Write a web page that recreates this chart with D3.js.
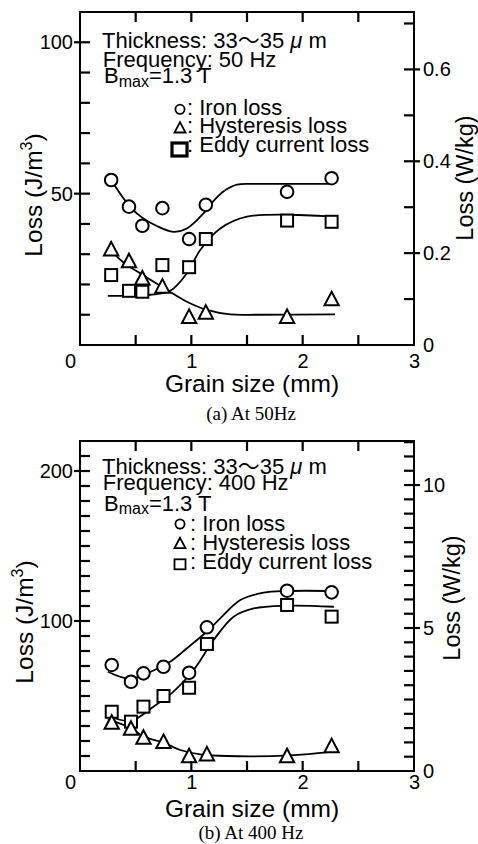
<!DOCTYPE html>
<html><head><meta charset="utf-8">
<script src="https://cdn.jsdelivr.net/npm/d3@7"></script>
<style>
body{margin:0;background:#fff}
svg{display:block}
text{font-family:"Liberation Sans",Arial,Helvetica,sans-serif;fill:#000}
.cap{font-family:"Liberation Serif","Times New Roman",serif}
</style>
</head><body>
<svg id="chart" width="478" height="844"></svg>
<script>
// ---------- shared ----------
const xLabels = [0, 1, 2, 3];
const xMinorTicks = [0.5, 1, 1.5, 2, 2.5];
const seriesNames = ["Iron loss", "Hysteresis loss", "Eddy current loss"];

// ---------- panel (a) 50 Hz ----------
const grainA = [0.28, 0.44, 0.56, 0.74, 0.98, 1.13, 1.86, 2.26];
const ironA  = [54.5, 45.7, 39.4, 45.2, 35.0, 46.3, 50.6, 55.1];
const hystA  = [31.4, 27.5, 21.8, 19.1, 9.1, 10.5, 9.1, 14.9];
const eddyA  = [23.1, 17.9, 17.6, 26.4, 25.7, 35.0, 41.1, 40.7];
const ironFitAx = [0.28, 0.40, 0.51, 0.69, 0.84, 0.96, 1.11, 1.18, 1.30, 1.41, 1.60, 2.26];
const ironFitAy = [54.5, 48.0, 43.5, 39.3, 37.4, 38.5, 43.5, 46.8, 51.0, 53.0, 53.2, 53.2];
const hystFitAx = [0.27, 0.40, 0.54, 0.78, 0.96, 1.14, 1.35, 1.60, 2.29];
const hystFitAy = [31.4, 27.0, 23.7, 18.2, 14.3, 11.6, 10.1, 10.0, 10.1];
const eddyFitAx = [0.25, 0.45, 0.63, 0.81, 0.96, 1.08, 1.26, 1.50, 2.29];
const eddyFitAy = [16.2, 16.3, 16.6, 17.9, 23.7, 31.4, 38.5, 42.4, 42.4];
const leftMajorA = [50, 100];
const leftMinorA = [10, 20, 30, 40, 50, 60, 70, 80, 90, 100];
const rightMajorA = [0, 0.2, 0.4, 0.6];
const rightMinorA = [0.1, 0.2, 0.3, 0.4, 0.5, 0.6, 0.7];
const headerA = ["Thickness: 33", "Frequency: 50 Hz", "=1.3 T"];
const captionA = "(a) At 50Hz";

// ---------- panel (b) 400 Hz ----------
const grainB = [0.285, 0.458, 0.57, 0.75, 0.98, 1.14, 1.86, 2.26];
const ironB  = [70.7, 59.5, 65.1, 69.5, 65.5, 95.8, 120.2, 119.1];
const hystB  = [31.8, 27.8, 21.8, 18.9, 9.5, 10.7, 9.5, 16.2];
const eddyB  = [39.5, 32.9, 42.9, 50.0, 55.5, 84.7, 110.7, 102.9];
const ironFitBx = [0.25, 0.45, 0.63, 0.81, 0.96, 1.14, 1.26, 1.44, 1.65, 1.86, 2.29];
const ironFitBy = [66.2, 61.5, 66.0, 72.9, 81.8, 93.0, 101.8, 114.0, 118.9, 120.0, 120.0];
const hystFitBx = [0.25, 0.46, 0.57, 0.75, 0.90, 1.08, 1.32, 1.88, 2.28];
const hystFitBy = [34.4, 28.5, 22.9, 18.9, 14.0, 11.1, 10.0, 10.4, 12.9];
const eddyFitBx = [0.28, 0.46, 0.66, 0.84, 1.02, 1.20, 1.38, 1.56, 1.86, 2.28];
const eddyFitBy = [36.0, 33.5, 42.9, 52.9, 67.3, 87.3, 102.9, 108.4, 110.2, 109.5];
const leftMajorB = [100, 200];
const leftMinorB = [10, 20, 30, 40, 50, 60, 70, 80, 90, 100, 110, 120, 130, 140, 150, 160, 170, 180, 190, 200, 210];
const rightMajorB = [0, 5, 10];
const rightMinorB = [0.5, 1, 1.5, 2, 2.5, 3, 3.5, 4, 4.5, 5, 5.5, 6, 6.5, 7, 7.5, 8, 8.5, 9, 9.5, 10, 10.5, 11, 11.5];
const headerB = ["Thickness: 33", "Frequency: 400 Hz", "=1.3 T"];
const captionB = "(b) At 400 Hz";

const svg = d3.select("#chart");
const X0 = 80, X1 = 414;

const panels = [
  { grain: grainA, iron: ironA, hyst: hystA, eddy: eddyA,
    fits: [[ironFitAx, ironFitAy], [hystFitAx, hystFitAy], [eddyFitAx, eddyFitAy]],
    top: 12, bottom: 345, yMax: 110, y2Max: 0.725,
    leftMajor: leftMajorA, leftMinor: leftMinorA, rightMajor: rightMajorA, rightMinor: rightMinorA,
    rightFmt: d => d === 0 ? "0" : d3.format(".1f")(d),
    header: headerA, caption: captionA,
    xPad: 9, leftLabelX: 42, leftLabelY: 195, rightLabelX: 473, rightLabelY: 178,
    hdrY: [48.3, 66.7, 83.3], legY: [115, 133.3, 152], symY: [109.3, 128.3, 149.5], symX: 180, legX: 187,
    boldSquare: true, titleY: 391.7, capY: 420 },
  { grain: grainB, iron: ironB, hyst: hystB, eddy: eddyB,
    fits: [[ironFitBx, ironFitBy], [hystFitBx, hystFitBy], [eddyFitBx, eddyFitBy]],
    top: 441, bottom: 771, yMax: 220, y2Max: 11.54,
    leftMajor: leftMajorB, leftMinor: leftMinorB, rightMajor: rightMajorB, rightMinor: rightMinorB,
    rightFmt: d3.format("d"),
    header: headerB, caption: captionB,
    xPad: 4, leftLabelX: 33, leftLabelY: 622, rightLabelX: 460, rightLabelY: 598,
    hdrY: [474.3, 490, 510.7], legY: [530.7, 550, 569.3], symY: [524, 544, 564.3], symX: 180, legX: 190,
    boldSquare: false, titleY: 816.7, capY: 838.5 }
];

function tri(cx, cy, s) {
  return `M${cx},${cy - s * 0.62}L${cx + s * 0.55},${cy + s * 0.42}L${cx - s * 0.55},${cy + s * 0.42}Z`;
}

function styleAxis(sel) {
  sel.select(".domain").remove();
  sel.selectAll(".tick line").remove();
  sel.selectAll(".tick text").attr("font-size", 20).attr("fill", "#000")
     .attr("font-family", '"Liberation Sans",Arial,sans-serif');
}

const tickSegs = [];   // tick segments from the scales, drawn last on the root

panels.forEach(p => {
  const g = svg.append("g");
  const x = d3.scaleLinear().domain([0, 3]).range([X0, X1]);
  const y = d3.scaleLinear().domain([0, p.yMax]).range([p.bottom, p.top]);
  const y2 = d3.scaleLinear().domain([0, p.y2Max]).range([p.bottom, p.top]);

  // frame
  g.append("rect").attr("x", X0).attr("y", p.top).attr("width", X1 - X0).attr("height", p.bottom - p.top)
    .attr("fill", "none").attr("stroke", "#000").attr("stroke-width", 2);

  // tick segments (inward minors, outward majors)
  p.leftMinor.forEach(v => tickSegs.push([X0, y(v), X0 + 10, y(v)]));
  p.leftMajor.forEach(v => tickSegs.push([X0 - 6, y(v), X0, y(v)]));
  p.rightMinor.forEach(v => tickSegs.push([X1 - 10, y2(v), X1, y2(v)]));
  p.rightMajor.filter(v => v > 0).forEach(v => tickSegs.push([X1, y2(v), X1 + 6, y2(v)]));
  xMinorTicks.forEach(v => tickSegs.push([x(v), p.bottom - 10, x(v), p.bottom]));
  xMinorTicks.forEach(v => tickSegs.push([x(v), p.top, x(v), p.top + 10]));

  // labels via axes
  g.append("g").attr("transform", `translate(${X0},0)`)
    .call(d3.axisLeft(y).tickValues(p.leftMajor).tickSize(0).tickPadding(7).tickFormat(d3.format("d"))).call(styleAxis);
  g.append("g").attr("transform", `translate(${X1},0)`)
    .call(d3.axisRight(y2).tickValues(p.rightMajor).tickSize(0).tickPadding(9).tickFormat(p.rightFmt)).call(styleAxis);
  const xb = g.append("g").attr("transform", `translate(0,${p.bottom})`)
    .call(d3.axisBottom(x).tickValues(xLabels).tickSize(0).tickPadding(p.xPad).tickFormat(d3.format("d"))).call(styleAxis);
  xb.selectAll(".tick").filter(d => d === 0).select("text").attr("dx", -10);

  // fitted curves
  const line = d3.line().x(d => x(d[0])).y(d => y(d[1])).curve(d3.curveCatmullRom.alpha(0.5));
  p.fits.forEach(f => {
    const pts = f[0].map((v, i) => [v, f[1][i]]);
    g.append("path").attr("d", line(pts)).attr("fill", "none").attr("stroke", "#000").attr("stroke-width", 1.8);
  });

  // markers
  const mk = { fill: "#fff", stroke: "#000", "stroke-width": 2 };
  const setA = (s) => { Object.entries(mk).forEach(([k, v]) => s.attr(k, v)); return s; };
  setA(g.append("g").selectAll("circle").data(p.grain.map((v, i) => [v, p.iron[i]])).join("circle")
    .attr("cx", d => x(d[0])).attr("cy", d => y(d[1])).attr("r", 6.3));
  setA(g.append("g").selectAll("rect").data(p.grain.map((v, i) => [v, p.eddy[i]])).join("rect")
    .attr("x", d => x(d[0]) - 6).attr("y", d => y(d[1]) - 6).attr("width", 12).attr("height", 12));
  setA(g.append("g").selectAll("path").data(p.grain.map((v, i) => [v, p.hyst[i]])).join("path")
    .attr("d", d => tri(x(d[0]), y(d[1]), 13)));

  // header text
  const h0 = g.append("text").attr("x", 102).attr("y", p.hdrY[0]).attr("font-size", 22);
  h0.append("tspan").text(p.header[0]);
  h0.append("tspan").attr("font-family", '"Noto Sans CJK JP",sans-serif').text("～");
  h0.append("tspan").text("35 ");
  h0.append("tspan").attr("font-style", "italic").text("μ");
  h0.append("tspan").text(" m");
  g.append("text").attr("x", 102.7).attr("y", p.hdrY[1]).attr("font-size", 22).text(p.header[1]);
  const h2 = g.append("text").attr("x", 104).attr("y", p.hdrY[2]).attr("font-size", 22);
  h2.append("tspan").text("B");
  h2.append("tspan").attr("font-size", 16).attr("dy", 3.6).text("max");
  h2.append("tspan").attr("dy", -3.6).text(p.header[2]);

  // legend
  const sx = p.symX;
  g.append("circle").attr("cx", sx).attr("cy", p.symY[0]).attr("r", 4.6)
    .attr("fill", "#fff").attr("stroke", "#000").attr("stroke-width", 1.8);
  g.append("path").attr("d", tri(sx, p.symY[1], 10))
    .attr("fill", "#fff").attr("stroke", "#000").attr("stroke-width", 1.8);
  if (p.boldSquare) {
    g.append("rect").attr("x", sx - 8).attr("y", p.symY[2] - 6.5).attr("width", 15).attr("height", 13)
      .attr("fill", "#fff").attr("stroke", "#000").attr("stroke-width", 3.2);
  } else {
    g.append("rect").attr("x", sx - 5.5).attr("y", p.symY[2] - 5).attr("width", 11).attr("height", 10)
      .attr("fill", "#fff").attr("stroke", "#000").attr("stroke-width", 1.8);
  }
  seriesNames.forEach((n, i) => {
    g.append("text").attr("x", p.legX).attr("y", p.legY[i]).attr("font-size", 22).text(": " + n);
  });

  // axis titles
  const lt = g.append("text").attr("transform", `translate(${p.leftLabelX},${p.leftLabelY}) rotate(-90)`)
    .attr("text-anchor", "middle").attr("font-size", 24.5);
  lt.append("tspan").text("Loss (J/m");
  lt.append("tspan").attr("font-size", 16).attr("dy", -10).text("3");
  lt.append("tspan").attr("dy", 10).text(")");
  g.append("text").attr("transform", `translate(${p.rightLabelX},${p.rightLabelY}) rotate(-90)`)
    .attr("text-anchor", "middle").attr("font-size", 23.5).text("Loss (W/kg)");
  g.append("text").attr("x", (X0 + X1) / 2 + 5).attr("y", p.titleY).attr("text-anchor", "middle")
    .attr("font-size", 24.5).text("Grain size (mm)");
  g.append("text").attr("class", "cap").attr("x", 251).attr("y", p.capY).attr("text-anchor", "middle")
    .attr("font-size", 19).text(p.caption);
});

// all tick marks, drawn last at the root
svg.append("g").selectAll("line").data(tickSegs).join("line")
  .attr("x1", d => d[0]).attr("y1", d => d[1]).attr("x2", d => d[2]).attr("y2", d => d[3])
  .attr("stroke", "#000").attr("stroke-width", 2.2);
</script>
</body></html>
